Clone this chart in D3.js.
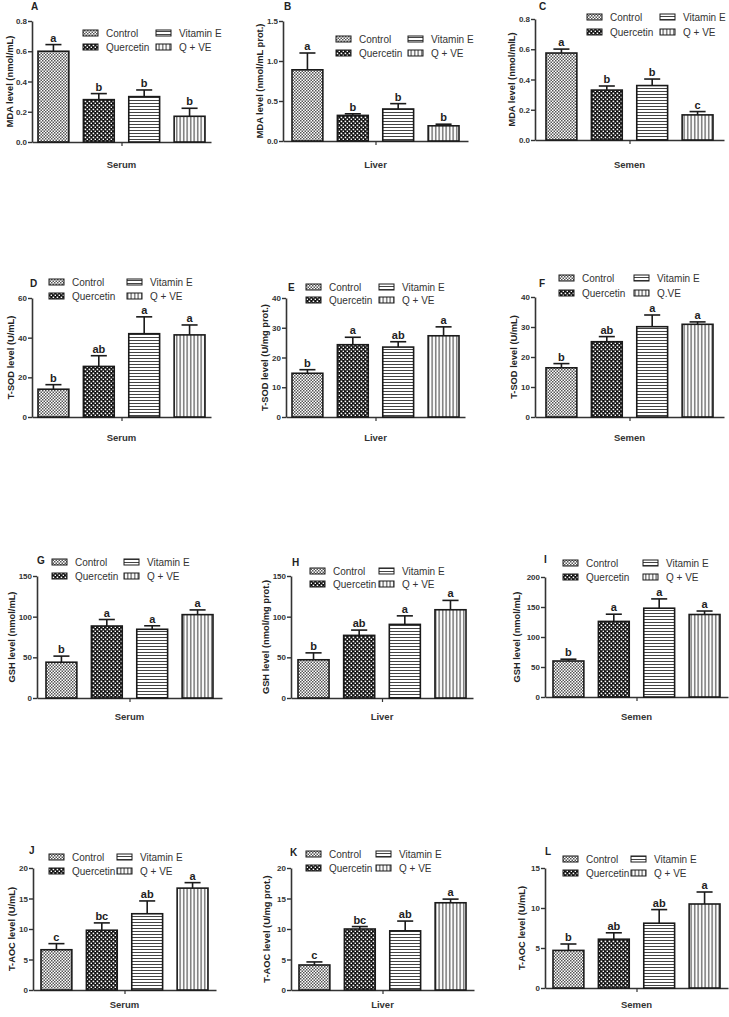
<!DOCTYPE html>
<html><head><meta charset="utf-8">
<script src="https://cdn.jsdelivr.net/npm/d3@7"></script>
<style>
body{margin:0;background:#fff}
svg{display:block}
text{font-family:"Liberation Sans",Arial,Helvetica,sans-serif}
</style>
</head><body>
<script>
// ---------- DATA ----------
const panelLetters = ["A","B","C","D","E","F","G","H","I","J","K","L"];
const tissueNames = ["Serum","Liver","Semen","Serum","Liver","Semen","Serum","Liver","Semen","Serum","Liver","Semen"];
const groupNames = ["Control","Quercetin","Vitamin E","Q + VE"];
const legendNamesF = ["Control","Quercetin","Vitamin E","Q.VE"];
const yAxisLabels = [
  "MDA level (nmol/mL)","MDA level (nmol/mL prot.)","MDA level (nmol/mlL)",
  "T-SOD level (U/mL)","T-SOD level (U/mg prot.)","T-SOD level (U/mL)",
  "GSH level (nmol/mL)","GSH level (nmol/mg prot.)","GSH level (nmol/mL)",
  "T-AOC level (U/mL)","T-AOC level (U/mg prot.)","T-AOC level (U/mL)"
];
const meanValues = [
  [0.60,0.28,0.30,0.17],
  [0.89,0.32,0.40,0.19],
  [0.575,0.33,0.36,0.166],
  [14.0,25.5,42.0,41.4],
  [14.7,24.3,23.5,27.3],
  [16.4,25.1,30.1,30.9],
  [44,88.5,84.5,102.5],
  [47,77,90.5,108.5],
  [60,126,148,137.5],
  [6.6,9.8,12.5,16.7],
  [4.1,10.0,9.7,14.3],
  [4.7,6.1,8.1,10.5]
];
const semValues = [
  [0.044,0.04,0.044,0.053],
  [0.21,0.02,0.067,0.02],
  [0.026,0.027,0.043,0.022],
  [2.3,5.4,8.5,5.0],
  [1.2,2.5,1.8,3.0],
  [1.4,1.7,3.9,0.8],
  [7.5,8,4.3,5.8],
  [8.5,6.5,10.5,11.5],
  [3,12,15.5,5.8],
  [1.0,1.2,2.1,0.9],
  [0.5,0.4,1.6,0.6],
  [0.8,0.8,1.7,1.5]
];
const sigLetters = [
  ["a","b","b","b"],["a","b","b","b"],["a","b","b","c"],
  ["b","ab","a","a"],["b","a","ab","a"],["b","ab","a","a"],
  ["b","a","a","a"],["b","ab","a","a"],["b","a","a","a"],
  ["c","bc","ab","a"],["c","bc","ab","a"],["b","ab","ab","a"]
];
const yTickValues = [
  [0,0.2,0.4,0.6,0.8],[0,0.5,1.0,1.5],[0,0.2,0.4,0.6,0.8],
  [0,20,40,60],[0,10,20,30,40],[0,10,20,30,40],
  [0,50,100,150],[0,50,100,150],[0,50,100,150,200],
  [0,5,10,15,20],[0,5,10,15,20],[0,5,10,15]
];
const tickDecimals = [1,1,1,0,0,0,0,0,0,0,0,0];

// ---------- LAYOUT (pixel positions, not data) ----------
const layout = [
  {x0:32, bx0:38, bx1:205, yTop:21, yBase:142, ylx:10, lx:31,  ly:10,  s1:83,  s2:156, r1:33,  r2:47,  catY:168},
  {x0:283,bx0:292,bx1:459, yTop:21, yBase:141, ylx:260,lx:284, ly:10,  s1:336, s2:408, r1:39,  r2:53,  catY:168},
  {x0:535,bx0:546,bx1:713, yTop:19, yBase:140, ylx:512,lx:539, ly:10,  s1:587, s2:660, r1:17,  r2:32,  catY:168},
  {x0:32, bx0:38, bx1:205, yTop:298,yBase:417, ylx:11, lx:30,  ly:287, s1:49,  s2:127, r1:282, r2:296, catY:441},
  {x0:286,bx0:292,bx1:459, yTop:298,yBase:417, ylx:265,lx:288, ly:291, s1:306, s2:379, r1:287, r2:300, catY:441},
  {x0:535,bx0:546,bx1:713, yTop:297,yBase:417, ylx:514,lx:539, ly:287, s1:559, s2:634, r1:278, r2:293, catY:441},
  {x0:37, bx0:46, bx1:213, yTop:576,yBase:698, ylx:12, lx:37,  ly:564, s1:52,  s2:124, r1:562, r2:576, catY:720},
  {x0:291,bx0:298,bx1:466, yTop:576,yBase:698, ylx:266,lx:292, ly:566, s1:310, s2:379, r1:571, r2:584, catY:720},
  {x0:545,bx0:553,bx1:720, yTop:577,yBase:697, ylx:517,lx:544, ly:563, s1:563, s2:643, r1:563, r2:577, catY:720},
  {x0:33, bx0:41, bx1:208, yTop:868,yBase:990, ylx:12, lx:29,  ly:854, s1:49,  s2:117, r1:857, r2:871, catY:1008},
  {x0:291,bx0:299,bx1:466, yTop:868,yBase:990, ylx:267,lx:290, ly:856, s1:306, s2:376, r1:854, r2:868, catY:1008},
  {x0:545,bx0:553,bx1:720, yTop:868,yBase:988, ylx:522,lx:545, ly:855, s1:563, s2:631, r1:859, r2:873, catY:1008}
];

const W = 729, H = 1017;
const svg = d3.select("body").append("svg").attr("width", W).attr("height", H);
svg.append("rect").attr("width", W).attr("height", H).attr("fill", "#fff");

// ---------- PATTERNS ----------
const defs = svg.append("defs");
// Control: fine checker
let p = defs.append("pattern").attr("id","pat0").attr("patternUnits","userSpaceOnUse").attr("width",3).attr("height",3);
p.append("rect").attr("width",3).attr("height",3).attr("fill","#fff");
p.append("rect").attr("x",0).attr("y",0).attr("width",1.5).attr("height",1.5).attr("fill","#555");
p.append("rect").attr("x",1.5).attr("y",1.5).attr("width",1.5).attr("height",1.5).attr("fill","#555");
// Quercetin: coarse checker (dark)
p = defs.append("pattern").attr("id","pat1").attr("patternUnits","userSpaceOnUse").attr("width",4).attr("height",4);
p.append("rect").attr("width",4).attr("height",4).attr("fill","#111");
p.append("rect").attr("x",0.6).attr("y",0.6).attr("width",1.6).attr("height",1.6).attr("fill","#fff");
p.append("rect").attr("x",2.6).attr("y",2.6).attr("width",1.6).attr("height",1.6).attr("fill","#fff");
// Vitamin E: horizontal lines
p = defs.append("pattern").attr("id","pat2").attr("patternUnits","userSpaceOnUse").attr("width",4).attr("height",3);
p.append("rect").attr("width",4).attr("height",3).attr("fill","#fff");
p.append("rect").attr("x",0).attr("y",1).attr("width",4).attr("height",1).attr("fill","#444");
// Q + VE: vertical lines
p = defs.append("pattern").attr("id","pat3").attr("patternUnits","userSpaceOnUse").attr("width",3.5).attr("height",4);
p.append("rect").attr("width",3.5).attr("height",4).attr("fill","#fff");
p.append("rect").attr("x",1.2).attr("y",0).attr("width",1).attr("height",4).attr("fill","#333");

const ink = "#1a1a1a";
const axisCol = "#333";

panelLetters.forEach((letter, i) => {
  const L = layout[i];
  const g = svg.append("g");
  const ticks = yTickValues[i];
  const yMax = ticks[ticks.length - 1];
  const y = d3.scaleLinear().domain([0, yMax]).range([L.yBase, L.yTop]);
  const x = d3.scaleBand().domain(groupNames).range([L.bx0, L.bx1]).paddingInner(0.32).paddingOuter(0);
  const xEnd = L.bx1 + (L.bx0 - L.x0);
  const xc = d3.scalePoint().domain([tissueNames[i]]).range([L.x0, xEnd]).padding(0.5);

  // y axis
  const fmt = d3.format("." + tickDecimals[i] + "f");
  const ya = g.append("g").attr("transform", `translate(${L.x0},0)`)
    .call(d3.axisLeft(y).tickValues(ticks).tickFormat(fmt).tickSize(4).tickSizeOuter(0).tickPadding(1));
  ya.select(".domain").attr("stroke", axisCol).attr("stroke-width", 1.6);
  ya.selectAll(".tick line").attr("stroke", axisCol).attr("stroke-width", 1.4);
  ya.selectAll(".tick text").attr("fill", "#333").attr("font-size", 8).attr("font-weight", "bold")
    .attr("font-family", '"Liberation Sans",Arial,sans-serif');

  // x axis
  const xa = g.append("g").attr("transform", `translate(0,${L.yBase})`)
    .call(d3.axisBottom(xc).tickSize(4).tickSizeOuter(0).tickFormat(""));
  xa.select(".domain").attr("stroke", axisCol).attr("stroke-width", 1.6);
  xa.selectAll(".tick line").attr("stroke", axisCol).attr("stroke-width", 1.2);

  // category label
  g.append("text").attr("x", xc(tissueNames[i])).attr("y", L.catY)
    .attr("text-anchor", "middle").attr("font-size", 9.5).attr("font-weight", "bold")
    .attr("fill", "#333").text(tissueNames[i]);

  // y axis label
  g.append("text").attr("transform", `translate(${L.ylx + 3.3},${(L.yTop + L.yBase) / 2}) rotate(-90)`)
    .attr("text-anchor", "middle").attr("font-size", 9.3).attr("font-weight", "bold")
    .attr("fill", "#222").text(yAxisLabels[i]);

  // panel letter
  g.append("text").attr("x", L.lx).attr("y", L.ly).attr("font-size", 10).attr("font-weight", "bold")
    .attr("fill", "#222").text(letter);

  const rows = groupNames.map((name, k) => ({name, k, m: meanValues[i][k], e: semValues[i][k], s: sigLetters[i][k]}));

  // bars
  g.selectAll("rect.bar").data(rows).join("rect").attr("class", "bar")
    .attr("x", d => x(d.name)).attr("y", d => y(d.m))
    .attr("width", x.bandwidth()).attr("height", d => y(0) - y(d.m))
    .attr("fill", d => `url(#pat${d.k})`).attr("stroke", ink).attr("stroke-width", 1.6);

  // error bars
  const cap = x.bandwidth() * 0.26;
  g.selectAll("line.eb").data(rows).join("line").attr("class", "eb")
    .attr("x1", d => x(d.name) + x.bandwidth() / 2).attr("x2", d => x(d.name) + x.bandwidth() / 2)
    .attr("y1", d => y(d.m)).attr("y2", d => y(d.m + d.e))
    .attr("stroke", ink).attr("stroke-width", 1.6);
  g.selectAll("line.cap").data(rows).join("line").attr("class", "cap")
    .attr("x1", d => x(d.name) + x.bandwidth() / 2 - cap).attr("x2", d => x(d.name) + x.bandwidth() / 2 + cap)
    .attr("y1", d => y(d.m + d.e)).attr("y2", d => y(d.m + d.e))
    .attr("stroke", ink).attr("stroke-width", 1.6);

  // significance letters
  g.selectAll("text.sig").data(rows).join("text").attr("class", "sig")
    .attr("x", d => x(d.name) + x.bandwidth() / 2).attr("y", d => y(d.m + d.e) - 3)
    .attr("text-anchor", "middle").attr("font-size", 11).attr("font-weight", "bold")
    .attr("fill", "#222").text(d => d.s);

  // legend
  const names = (letter === "F") ? legendNamesF : groupNames;
  const pos = [[L.s1, L.r1], [L.s1, L.r2], [L.s2, L.r1], [L.s2, L.r2]];
  const leg = g.append("g");
  names.forEach((nm, k) => {
    const [lxp, lyp] = pos[k];
    leg.append("rect").attr("x", lxp).attr("y", lyp - 3).attr("width", 15).attr("height", 6)
      .attr("fill", `url(#pat${k})`).attr("stroke", ink).attr("stroke-width", 1);
    leg.append("text").attr("x", lxp + 23).attr("y", lyp + 3.5).attr("font-size", 10)
      .attr("fill", "#333").text(nm);
  });
});
</script>
</body></html>
